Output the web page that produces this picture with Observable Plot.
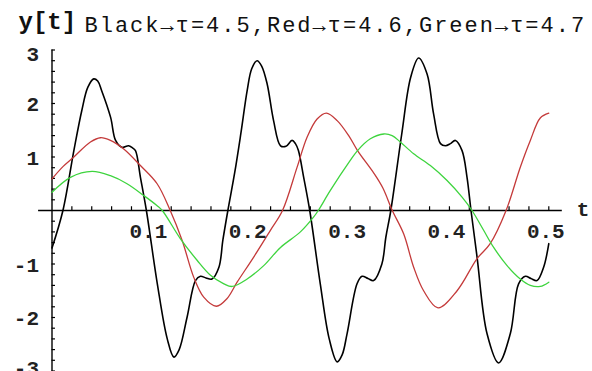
<!DOCTYPE html>
<html>
<head>
<meta charset="utf-8">
<script src="https://cdn.jsdelivr.net/npm/d3@7"></script>
<script src="https://cdn.jsdelivr.net/npm/@observablehq/plot@0.6"></script>
<style>
  html, body { margin: 0; padding: 0; background: #fff; }
  #chart svg { display: block; }
</style>
</head>
<body>
<div id="chart"></div>
<script>
// Black series (tau = 4.5)
const tBlack = [0, 0.011, 0.022, 0.030, 0.036, 0.042, 0.046, 0.050, 0.059, 0.064, 0.0706, 0.077, 0.081, 0.084, 0.089, 0.095,
  0.106, 0.116, 0.1227, 0.128, 0.136, 0.1444, 0.1494, 0.155, 0.161, 0.168, 0.172, 0.177,
  0.184, 0.19, 0.1965, 0.201, 0.2064, 0.211, 0.2165, 0.223, 0.23, 0.2355, 0.2416, 0.245, 0.248, 0.2533, 0.2594,
  0.27, 0.279, 0.287, 0.292, 0.297, 0.307, 0.312, 0.318, 0.3237, 0.332, 0.336, 0.341,
  0.352, 0.361, 0.369, 0.3775, 0.384, 0.391, 0.396, 0.401, 0.406, 0.4127, 0.4177, 0.4217,
  0.4278, 0.4378, 0.4495, 0.4613, 0.4696, 0.4764, 0.482, 0.4881, 0.4948, 0.5];
const yBlack = [-0.70, 0.0, 1.12, 1.87, 2.30, 2.46, 2.42, 2.24, 1.74, 1.31, 1.18, 1.21, 1.17, 1.12, 0.62, 0.0,
  -1.37, -2.40, -2.74, -2.60, -1.99, -1.31, -1.23, -1.26, -1.28, -1.06, -0.55, 0.0,
  0.72, 1.43, 2.25, 2.65, 2.80, 2.70, 2.37, 1.68, 1.21, 1.20, 1.31, 1.25, 1.12, 0.62, 0.0,
  -1.37, -2.40, -2.83, -2.70, -2.30, -1.37, -1.23, -1.27, -1.31, -1.0, -0.50, 0.0,
  1.43, 2.49, 2.85, 2.55, 1.81, 1.25, 1.21, 1.25, 1.31, 1.12, 0.62, 0.0,
  -0.87, -2.30, -2.85, -2.30, -1.37, -1.23, -1.27, -1.31, -1.06, -0.62];

// Red series (tau = 4.6)
const tRed = [0, 0.011, 0.022, 0.0387, 0.0488, 0.0588, 0.0722, 0.089, 0.1058, 0.119,
  0.131, 0.1427, 0.1527, 0.1655, 0.176, 0.1863, 0.203, 0.2198, 0.232,
  0.2467, 0.2567, 0.2668, 0.2762, 0.287, 0.2986, 0.3075, 0.3242, 0.333, 0.3425,
  0.354, 0.364, 0.374, 0.3885, 0.4077, 0.4278, 0.441, 0.457, 0.4713, 0.4814, 0.4914, 0.5];
const yRed = [0.59, 0.82, 1.0, 1.28, 1.36, 1.31, 1.15, 0.84, 0.50, 0.0,
  -0.56, -1.25, -1.62, -1.79, -1.65, -1.34, -0.87, -0.37, 0.0,
  0.81, 1.37, 1.71, 1.82, 1.68, 1.40, 1.12, 0.69, 0.42, 0.0,
  -0.44, -1.06, -1.50, -1.82, -1.50, -0.90, -0.62, 0.0, 0.81, 1.31, 1.73, 1.82];

// Green series (tau = 4.7)
const tGreen = [0, 0.0186, 0.0403, 0.0588, 0.0755, 0.0923, 0.1058, 0.111,
  0.1293, 0.146, 0.1595, 0.173, 0.1813, 0.1964, 0.2131, 0.23, 0.25, 0.2634, 0.268,
  0.28, 0.30, 0.3075, 0.3204, 0.3339, 0.3423, 0.3506, 0.364, 0.3808, 0.3976, 0.4127, 0.4227,
  0.4344, 0.4445, 0.458, 0.4713, 0.4814, 0.4914, 0.5];
const yGreen = [0.34, 0.62, 0.73, 0.65, 0.50, 0.28, 0.09, 0.0,
  -0.53, -0.93, -1.21, -1.37, -1.42, -1.28, -1.03, -0.69, -0.40, -0.12, 0.0,
  0.37, 0.93, 1.12, 1.34, 1.43, 1.40, 1.28, 1.06, 0.84, 0.56, 0.25, 0.0,
  -0.37, -0.69, -1.03, -1.28, -1.40, -1.42, -1.34];

// Ticks and labels
const xMinorTicks = [0.02, 0.04, 0.06, 0.08, 0.10, 0.12, 0.14, 0.16, 0.18, 0.20, 0.22, 0.24, 0.26, 0.28, 0.30,
  0.32, 0.34, 0.36, 0.38, 0.40, 0.42, 0.44, 0.46, 0.48, 0.50];
const yMinorTicks = [-3, -2.8, -2.6, -2.4, -2.2, -2, -1.8, -1.6, -1.4, -1.2, -1, -0.8, -0.6, -0.4, -0.2,
  0.2, 0.4, 0.6, 0.8, 1, 1.2, 1.4, 1.6, 1.8, 2, 2.2, 2.4, 2.6, 2.8, 3];
const xTickValues = [0.1, 0.2, 0.3, 0.4, 0.5];
const xTickLabels = ["0.1", "0.2", "0.3", "0.4", "0.5"];
const yTickValues = [3, 2, 1, -1, -2, -3];
const yTickLabels = ["3", "2", "1", "-1", "-2", "-3"];
const yAxisLabel = "y[t]";
const legendText = "Black\u2192\u03c4=4.5,Red\u2192\u03c4=4.6,Green\u2192\u03c4=4.7";
const xAxisLabel = "t";

const toRows = (ts, ys) => ts.map((t, i) => ({t, y: ys[i]}));
const black = toRows(tBlack, yBlack);
const red = toRows(tRed, yRed);
const green = toRows(tGreen, yGreen);
const xLab = xTickValues.map((v, i) => ({v, label: xTickLabels[i]}));
const yLab = yTickValues.map((v, i) => ({v, label: yTickLabels[i]}));
const yLabMid = yLab.filter(d => Math.abs(d.v) < 3);
const yLabTop = yLab.filter(d => d.v === 3);
const yLabBottom = yLab.filter(d => d.v === -3);

const font = "'Liberation Mono', 'Courier New', monospace";
const labelStyle = {textAnchor: "end", dx: -13, fontSize: 21, fontWeight: "bold", fill: "#222"};

const chart = Plot.plot({
  width: 592,
  height: 371,
  marginLeft: 51.5,
  marginRight: 43.7,
  marginTop: 49.5,
  marginBottom: 0.5,
  x: {domain: [0, 0.5], axis: null},
  y: {domain: [-3, 3], axis: null},
  style: {background: "#fff", fontFamily: font, overflow: "hidden"},
  marks: [
    // axes
    Plot.ruleY([0], {x1: -0.0135, x2: 0.5136, stroke: "#000", strokeWidth: 1.4}),
    Plot.ruleX([0], {y1: -3.2, y2: 3.0, stroke: "#000", strokeWidth: 1.4}),
    Plot.ruleX(xMinorTicks, {x: d => d, y1: 0, y2: 0.07, stroke: "#000", strokeWidth: 1.2}),
    Plot.ruleY(yMinorTicks, {y: d => d, x1: 0, x2: 0.0035, stroke: "#000", strokeWidth: 1.2}),
    // series
    Plot.line(black, {x: "t", y: "y", stroke: "#000", strokeWidth: 1.6, curve: "catmull-rom"}),
    Plot.line(red, {x: "t", y: "y", stroke: "#c43a3a", strokeWidth: 1.3, curve: "catmull-rom"}),
    Plot.line(green, {x: "t", y: "y", stroke: "#3ed43e", strokeWidth: 1.3, curve: "catmull-rom"}),
    // tick labels
    Plot.text(xLab, {x: "v", y: () => 0, text: "label", dx: -3, dy: 21, fontSize: 21, fontWeight: "bold", fill: "#222"}),
    Plot.text(yLabMid, {x: () => 0, y: "v", text: "label", dy: 1, ...labelStyle}),
    Plot.text(yLabTop, {x: () => 0, y: "v", text: "label", dy: 4, ...labelStyle}),
    Plot.text(yLabBottom, {x: () => 0, y: "v", text: "label", dy: -3, ...labelStyle}),
    Plot.text([xAxisLabel], {x: () => 0.5, y: () => 0, text: d => d, textAnchor: "start", dx: 28, dy: -1, fontSize: 21, fontWeight: "bold", fill: "#222"}),
    // title
    Plot.text([yAxisLabel], {frameAnchor: "top-left", text: d => d, textAnchor: "start", lineAnchor: "bottom", dx: -33.5, dy: -21.5, fontSize: 24, fontWeight: "bold", fill: "#111"}),
    Plot.text([legendText], {frameAnchor: "top-left", text: d => d, textAnchor: "start", lineAnchor: "bottom", dx: 32.5, dy: -18.5, fontSize: 22, fill: "#111"})
  ]
});
// widen the title spacing like the monospaced original
d3.select(chart).selectAll("text").filter(function() { return this.textContent === legendText; })
  .style("letter-spacing", "2px");
document.getElementById("chart").appendChild(chart);
</script>
</body>
</html>
